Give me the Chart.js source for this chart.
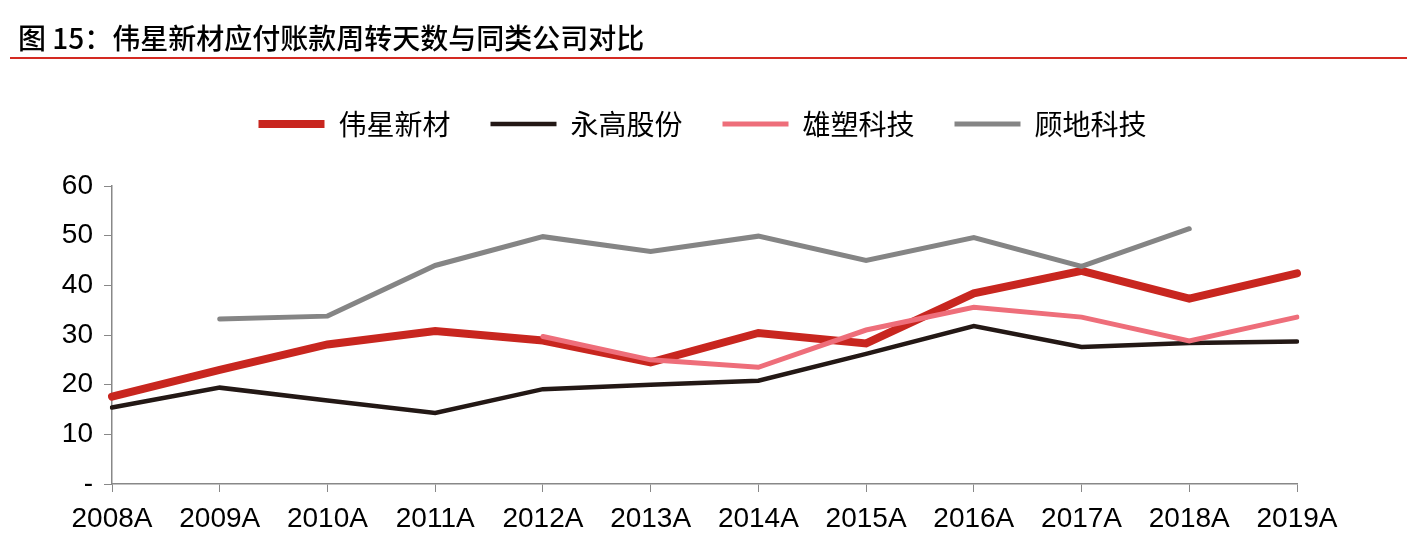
<!DOCTYPE html>
<html>
<head>
<meta charset="utf-8">
<script src="https://cdn.jsdelivr.net/npm/chart.js@4"></script>
<style>
  html, body { margin: 0; padding: 0; background: #fff; }
  #wrap { position: relative; width: 1420px; height: 560px; }
  #titulo {
    position: absolute; left: 18px; top: 17px;
    font-family: "Noto Sans CJK SC", sans-serif; font-size: 28px; font-weight: 500;
    color: #000; white-space: nowrap;
  }
  #regua { position: absolute; left: 10px; top: 57px; width: 1397px; height: 2px; background: #d42a22; }
  #grafico { position: absolute; left: 0; top: 0; }
</style>
</head>
<body>
<div id="wrap">
  <canvas id="grafico" width="1420" height="560"></canvas>
  <div id="titulo">图 15：伟星新材应付账款周转天数与同类公司对比</div>
  <div id="regua"></div>
</div>
<script>
// DADOS
const anos = ['2008A', '2009A', '2010A', '2011A', '2012A', '2013A', '2014A', '2015A', '2016A', '2017A', '2018A', '2019A'];
const weixing = [17.6, 23.0, 28.1, 30.8, 28.9, 24.5, 30.4, 28.3, 38.4, 42.9, 37.3, 42.4];
const yonggao = [15.4, 19.4, 16.8, 14.3, 19.1, 20.0, 20.8, 26.2, 31.8, 27.6, 28.4, 28.7];
const xiongsu = [null, null, null, null, 29.7, 25.0, 23.5, 31.0, 35.6, 33.6, 28.8, 33.6];
const gudi = [null, 33.2, 33.8, 44.0, 49.8, 46.8, 49.9, 45.0, 49.6, 43.8, 51.4, null];
const nomes = ['伟星新材', '永高股份', '雄塑科技', '顾地科技'];

// ajuste da legenda: mais espaco abaixo e deslocada para a direita
const ajusteLegenda = {
    id: 'ajusteLegenda',
    afterInit: function (chart) {
        const leg = chart.legend;
        const fitOriginal = leg.fit.bind(leg);
        leg.fit = function () {
            fitOriginal();
            this.height += 38;
        };
    },
    afterLayout: function (chart) {
        chart.legend.left += 54;
        chart.legend.right += 54;
    }
};

function montarGrafico() {
    const ctx = document.getElementById('grafico').getContext('2d');

    new Chart(ctx, {
        type: 'line',
        data: {
            labels: anos,
            datasets: [
                { label: nomes[0], data: weixing, borderColor: '#c8261f', backgroundColor: '#c8261f', borderWidth: 8, order: 4 },
                { label: nomes[1], data: yonggao, borderColor: '#231815', backgroundColor: '#231815', borderWidth: 4.5, order: 3 },
                { label: nomes[2], data: xiongsu, borderColor: '#ee6e7a', backgroundColor: '#ee6e7a', borderWidth: 5, order: 2 },
                { label: nomes[3], data: gudi, borderColor: '#858585', backgroundColor: '#858585', borderWidth: 5, order: 1 }
            ].map(d => Object.assign(d, {
                pointRadius: 0,
                pointHoverRadius: 0,
                pointStyle: 'line',
                tension: 0,
                fill: false,
                borderCapStyle: 'round',
                borderJoinStyle: 'miter'
            }))
        },
        options: {
            responsive: false,
            animation: false,
            devicePixelRatio: 1,
            layout: { padding: { top: 70, left: 0, right: 123, bottom: 0 } },
            plugins: {
                tooltip: { enabled: false },
                title: { display: false },
                legend: {
                    position: 'top',
                    labels: {
                        usePointStyle: true,
                        pointStyleWidth: 66,
                        padding: 40,
                        color: '#000',
                        sort: function (a, b) { return a.datasetIndex - b.datasetIndex; },
                        font: { family: '"Noto Sans CJK SC", sans-serif', size: 28 }
                    }
                }
            },
            scales: {
                x: {
                    offset: false,
                    grid: { drawOnChartArea: false, drawTicks: true, tickLength: 8, color: '#888' },
                    border: { color: '#888', width: 1.5 },
                    ticks: {
                        color: '#000', padding: 10, maxRotation: 0, autoSkip: false,
                        font: { family: '"Liberation Sans", Arial, sans-serif', size: 28 }
                    },
                    afterFit: function (scale) { scale.height = 76; }
                },
                y: {
                    min: 0,
                    max: 60,
                    grid: { drawOnChartArea: false, drawTicks: true, tickLength: 8, color: '#888' },
                    border: { color: '#888', width: 1.5 },
                    ticks: {
                        stepSize: 10, color: '#000', padding: 11,
                        font: { family: '"Liberation Sans", Arial, sans-serif', size: 28 },
                        callback: function (v) { return v === 0 ? '-' : v; }
                    },
                    afterFit: function (scale) { scale.width = 112; }
                }
            }
        },
        plugins: [ajusteLegenda]
    });
}

montarGrafico();
</script>
</body>
</html>
